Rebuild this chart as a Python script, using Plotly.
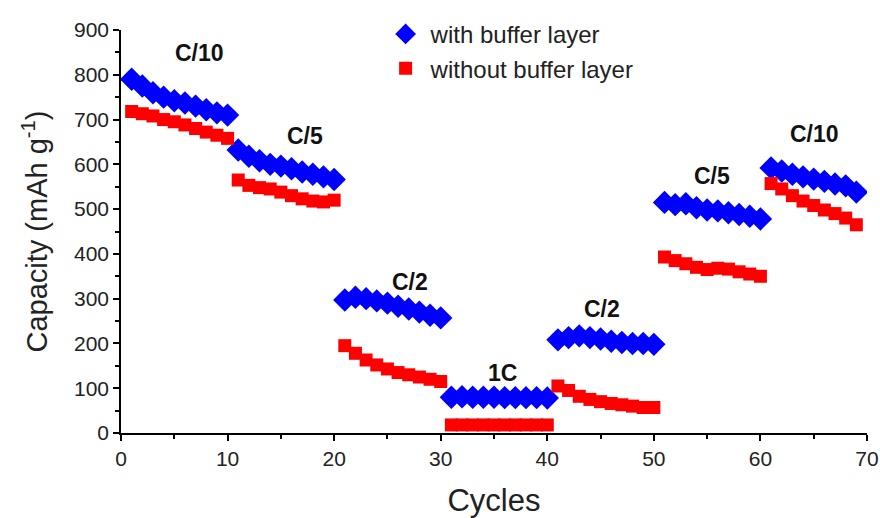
import plotly.graph_objects as go

cycles_with = list(range(1, 70))
cap_with = [790, 775, 760, 750, 742, 737, 730, 722, 715, 710,
            632, 618, 608, 600, 596, 590, 583, 578, 572, 566,
            297, 303, 300, 295, 290, 283, 277, 270, 263, 257,
            80, 81, 80, 80, 80, 79, 79, 79, 79, 78,
            208, 213, 217, 213, 210, 205, 202, 200, 200, 198,
            515, 510, 512, 503, 498, 496, 492, 488, 484, 478,
            592, 585, 578, 572, 567, 562, 556, 552, 538]

cycles_without = list(range(1, 70))
cap_without = [718, 713, 708, 700, 695, 688, 680, 672, 665, 658,
               565, 553, 548, 545, 538, 530, 523, 518, 516, 520,
               195, 178, 163, 152, 143, 135, 130, 125, 120, 115,
               18, 18, 18, 18, 18, 18, 18, 18, 18, 18,
               105, 95, 82, 75, 70, 66, 63, 60, 57, 57,
               393, 385, 378, 370, 365, 368, 366, 360, 355, 350,
               557, 545, 530, 518, 508, 498, 490, 480, 465]

rate_labels = ["C/10", "C/5", "C/2", "1C", "C/2", "C/5", "C/10"]
rate_x = [7.4, 17.3, 27.1, 35.8, 45.1, 55.5, 65.1]
rate_y = [849, 664, 337, 135, 278, 573, 668]

FONT = "Arial, Liberation Sans"

fig = go.Figure()
fig.add_trace(go.Scatter(x=cycles_with, y=cap_with, mode="markers",
                         name="with buffer layer",
                         marker=dict(symbol="diamond", size=18, color="#0000ff",
                                     line=dict(width=0))))
fig.add_trace(go.Scatter(x=cycles_without, y=cap_without, mode="markers",
                         name="without buffer layer",
                         marker=dict(symbol="square", size=13, color="#ff0000",
                                     line=dict(width=0))))

for t, xx, yy in zip(rate_labels, rate_x, rate_y):
    fig.add_annotation(x=xx, y=yy, text="<b>" + t + "</b>", showarrow=False,
                       font=dict(family=FONT, size=23, color="#111"))

axis_common = dict(showline=True, linecolor="black", linewidth=1.5,
                   ticks="outside", ticklen=6, tickwidth=1.5, tickcolor="black",
                   showgrid=False, zeroline=False, mirror=False, automargin=False,
                   tickfont=dict(family=FONT, size=21, color="#222"))

fig.update_xaxes(range=[0, 70], dtick=10, tick0=0,
                 minor=dict(ticks="outside", ticklen=4, dtick=5, tickcolor="black", tickwidth=1.5),
                 title=dict(text="Cycles", font=dict(family=FONT, size=31, color="#222"),
                            standoff=20),
                 **axis_common)
fig.update_yaxes(range=[0, 900], dtick=100, tick0=0,
                 minor=dict(ticks="outside", ticklen=4, dtick=50, tickcolor="black", tickwidth=1.5),
                 title=dict(text="Capacity (mAh g<sup>-1</sup>)",
                            font=dict(family=FONT, size=29, color="#222"),
                            standoff=18),
                 **axis_common)

fig.update_layout(
    width=880, height=518,
    margin=dict(l=121, r=13, t=25, b=85),
    plot_bgcolor="white", paper_bgcolor="white",
    showlegend=True,
    legend=dict(x=0.348, y=1.045, xanchor="left", yanchor="top",
                bgcolor="rgba(0,0,0,0)",
                font=dict(family=FONT, size=24, color="#222"),
                itemsizing="trace", itemwidth=40, tracegroupgap=0),
)

fig.write_html("out.html")
